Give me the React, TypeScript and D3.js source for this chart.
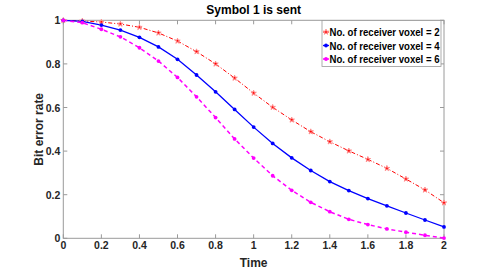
import React, { useRef, useEffect } from "react";
import * as d3 from "d3";

// time samples 0..2 step 0.1
const times = [0, 0.1, 0.2, 0.3, 0.4, 0.5, 0.6, 0.7, 0.8, 0.9, 1.0, 1.1, 1.2, 1.3, 1.4, 1.5, 1.6, 1.7, 1.8, 1.9, 2.0];

const voxel2 = [1, 0.997, 0.992, 0.983, 0.968, 0.942, 0.905, 0.856, 0.8, 0.735, 0.666, 0.601, 0.543, 0.489, 0.443, 0.401, 0.362, 0.321, 0.272, 0.222, 0.163];
const voxel4 = [1, 0.995, 0.978, 0.955, 0.922, 0.878, 0.821, 0.749, 0.672, 0.591, 0.51, 0.435, 0.369, 0.311, 0.26, 0.219, 0.182, 0.149, 0.116, 0.084, 0.052];
const voxel6 = [1, 0.989, 0.959, 0.924, 0.874, 0.813, 0.738, 0.649, 0.554, 0.456, 0.368, 0.287, 0.22, 0.165, 0.122, 0.087, 0.063, 0.043, 0.028, 0.014, 0.001];

const seriesNames = ["No. of receiver voxel = 2", "No. of receiver voxel = 4", "No. of receiver voxel = 6"];
const seriesColors = ["#ff0000", "#0000ff", "#ff00ff"];

const xTicks = [0, 0.2, 0.4, 0.6, 0.8, 1, 1.2, 1.4, 1.6, 1.8, 2];
const yTicks = [0, 0.2, 0.4, 0.6, 0.8, 1];

const W = 491;
const H = 273;
const margin = { left: 63.3, right: 47, top: 20.3, bottom: 34.7 };

export default function App() {
  const svgRef = useRef<SVGSVGElement>(null);

  useEffect(() => {
    const svg = d3.select(svgRef.current);
    svg.selectAll("*").remove();

    const x = d3.scaleLinear().domain([0, 2]).range([margin.left, W - margin.right]);
    const y = d3.scaleLinear().domain([0, 1]).range([H - margin.bottom, margin.top]);
    const font = "'Liberation Sans', Arial, sans-serif";
    const axisColor = "#9a9a9a";
    const textColor = "#262626";

    // box
    svg.append("rect")
      .attr("x", x(0)).attr("y", y(1))
      .attr("width", x(2) - x(0)).attr("height", y(0) - y(1))
      .attr("fill", "white").attr("stroke", axisColor).attr("stroke-width", 1);

    // ticks (inward, all four sides)
    const tl = 4;
    xTicks.forEach(t => {
      svg.append("line").attr("x1", x(t)).attr("x2", x(t)).attr("y1", y(0)).attr("y2", y(0) - tl)
        .attr("stroke", axisColor);
      svg.append("line").attr("x1", x(t)).attr("x2", x(t)).attr("y1", y(1)).attr("y2", y(1) + tl)
        .attr("stroke", axisColor);
      svg.append("text").attr("x", x(t)).attr("y", y(0) + 11)
        .attr("text-anchor", "middle").attr("font-family", font).attr("font-weight", "bold")
        .attr("font-size", 10.5).attr("fill", textColor).text(d3.format("~g")(t));
    });
    yTicks.forEach(t => {
      svg.append("line").attr("x1", x(0)).attr("x2", x(0) + tl).attr("y1", y(t)).attr("y2", y(t))
        .attr("stroke", axisColor);
      svg.append("line").attr("x1", x(2)).attr("x2", x(2) - tl).attr("y1", y(t)).attr("y2", y(t))
        .attr("stroke", axisColor);
      svg.append("text").attr("x", x(0) - 3).attr("y", y(t) + 4)
        .attr("text-anchor", "end").attr("font-family", font).attr("font-weight", "bold")
        .attr("font-size", 10.5).attr("fill", textColor).text(d3.format("~g")(t));
    });

    // title & labels
    svg.append("text").attr("x", x(1)).attr("y", 14.3).attr("text-anchor", "middle")
      .attr("font-family", font).attr("font-weight", "bold").attr("font-size", 12)
      .attr("fill", "#000").text("Symbol 1 is sent");
    svg.append("text").attr("x", x(1)).attr("y", 266.5).attr("text-anchor", "middle")
      .attr("font-family", font).attr("font-weight", "bold").attr("font-size", 12)
      .attr("fill", textColor).text("Time");
    svg.append("text").attr("transform", `translate(43,${(y(0) + y(1)) / 2}) rotate(-90)`)
      .attr("text-anchor", "middle")
      .attr("font-family", font).attr("font-weight", "bold").attr("font-size", 12)
      .attr("fill", textColor).text("Bit error rate");

    const allSeries = [voxel2, voxel4, voxel6];
    const dashes = ["4,2,1,2", null, "4,3"];
    const widths = [1, 1.3, 1.5];

    const line = d3.line<number>().x((_, i) => x(times[i])).y(d => y(d));

    allSeries.forEach((vals, si) => {
      const p = svg.append("path").attr("d", line(vals)!).attr("fill", "none")
        .attr("stroke", seriesColors[si]).attr("stroke-width", widths[si]);
      if (dashes[si]) p.attr("stroke-dasharray", dashes[si]!);
    });

    const drawMarker = (g: d3.Selection<any, any, any, any>, si: number, cx: number, cy: number) => {
      if (si === 0) {
        g.append("path").attr("d", d3.symbol().type(d3.symbolStar).size(9)()!)
          .attr("transform", `translate(${cx},${cy})`)
          .attr("fill", "#ff0000").attr("stroke", "#ff9090").attr("stroke-width", 1);
      } else {
        g.append("circle").attr("cx", cx).attr("cy", cy).attr("r", 1.9)
          .attr("fill", seriesColors[si]);
      }
    };

    allSeries.forEach((vals, si) => {
      const g = svg.append("g");
      vals.forEach((v, i) => drawMarker(g, si, x(times[i]), y(v)));
    });

    // legend
    const lg = svg.append("g");
    lg.append("rect").attr("x", 322).attr("y", 20.5).attr("width", 119).attr("height", 46)
      .attr("fill", "white").attr("stroke", "#9a9a9a").attr("stroke-width", 0.8);
    const rows = [32, 45.5, 59];
    seriesNames.forEach((name, si) => {
      const ly = rows[si];
      const ll = lg.append("line").attr("x1", 323).attr("x2", 329).attr("y1", ly).attr("y2", ly)
        .attr("stroke", seriesColors[si]).attr("stroke-width", widths[si]);
      if (si === 2) ll.attr("stroke-dasharray", "3,1");
      drawMarker(lg, si, 326, ly);
      lg.append("text").attr("x", 329.5).attr("y", ly + 4)
        .attr("font-family", font).attr("font-weight", "bold").attr("font-size", 10.5)
        .attr("textLength", 110).attr("lengthAdjust", "spacingAndGlyphs")
        .attr("fill", "#000").text(name);
    });
  }, []);

  return (
    <svg ref={svgRef} width={W} height={H} style={{ position: "absolute", left: 0, top: 0 }} />
  );
}
